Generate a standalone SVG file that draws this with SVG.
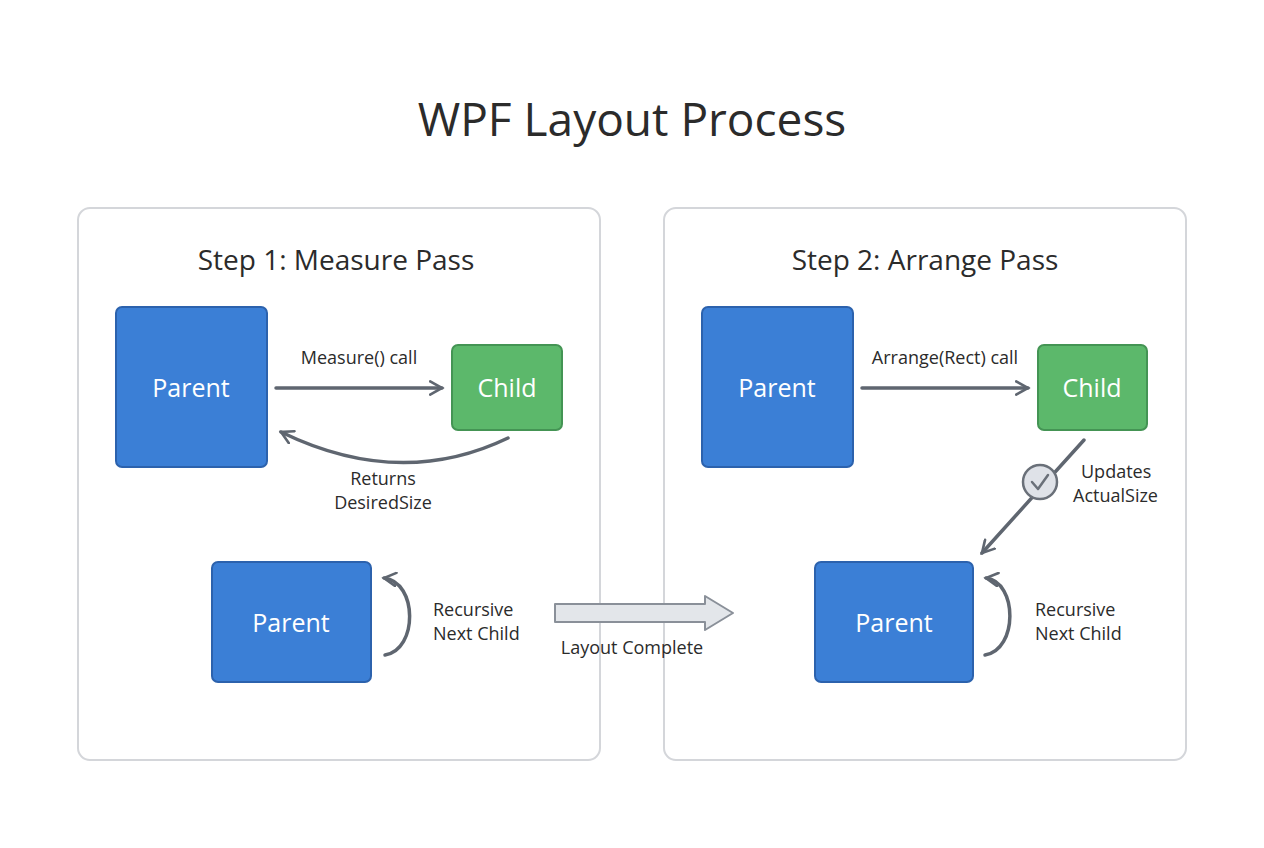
<svg xmlns="http://www.w3.org/2000/svg" width="1264" height="848" viewBox="0 0 1264 848">
<style>
text{font-family:"Open Sans","Noto Sans",sans-serif;fill:#2b2b2b}
.panel{fill:#fff;stroke:#d4d6da;stroke-width:2}
.blue{fill:#3b7fd6;stroke:#2c62ad;stroke-width:2}
.green{fill:#5cb86b;stroke:#449454;stroke-width:2}
.nt{fill:#fff;font-size:25px;text-anchor:middle}
.lbl{font-size:18px}
.c{text-anchor:middle}
.ln{fill:none;stroke:#5f6670;stroke-width:3.5;stroke-linecap:round}
</style>
<defs>
<marker id="ah" viewBox="0 0 12 12" refX="10" refY="6" markerWidth="4.5" markerHeight="4.5" orient="auto" markerUnits="strokeWidth">
<path d="M1,1 L10,6 L1,11" fill="none" stroke="#5f6670" stroke-width="2" stroke-linecap="round"/>
</marker>
</defs>
<rect width="1264" height="848" fill="#fff"/>
<text x="632" y="136" font-size="46" class="c">WPF Layout Process</text>
<rect class="panel" x="78" y="208" width="522" height="552" rx="12"/>
<rect class="panel" x="664" y="208" width="522" height="552" rx="12"/>
<text x="336" y="270" font-size="28" class="c">Step 1: Measure Pass</text>
<text x="925" y="270" font-size="28" class="c">Step 2: Arrange Pass</text>
<g id="parent1"><rect class="blue" x="116" y="307" width="151" height="160" rx="6"/><text class="nt" x="191" y="397">Parent</text></g>
<g id="child1"><rect class="green" x="452" y="345" width="110" height="85" rx="6"/><text class="nt" x="507" y="397">Child</text></g>
<g id="parent2"><rect class="blue" x="212" y="562" width="159" height="120" rx="6"/><text class="nt" x="291" y="632">Parent</text></g>
<g id="parent3"><rect class="blue" x="702" y="307" width="151" height="160" rx="6"/><text class="nt" x="777" y="397">Parent</text></g>
<g id="child2"><rect class="green" x="1038" y="345" width="109" height="85" rx="6"/><text class="nt" x="1092" y="397">Child</text></g>
<g id="parent4"><rect class="blue" x="815" y="562" width="158" height="120" rx="6"/><text class="nt" x="894" y="632">Parent</text></g>
<g id="connectors">
<line class="ln" x1="276" y1="388" x2="442" y2="388" marker-end="url(#ah)"/>
<path class="ln" d="M508,438 Q400,490 281,432" marker-end="url(#ah)"/>
<path class="ln" d="M385,655 C418,650 418,582 384,578" marker-end="url(#ah)"/>
<line class="ln" x1="862" y1="388" x2="1028" y2="388" marker-end="url(#ah)"/>
<line class="ln" x1="1084" y1="440" x2="982" y2="553" marker-end="url(#ah)"/>
<path class="ln" d="M985,655 C1018,650 1018,582 986,578" marker-end="url(#ah)"/>
<path d="M555,604 L705,604 L705,596 L733,613 L705,630 L705,622 L555,622 Z" fill="#e3e6ea" stroke="#8a9099" stroke-width="2" stroke-linejoin="round"/>
<circle cx="1040" cy="482" r="17" fill="#dfe2e8" stroke="#6a7079" stroke-width="2.5"/>
<path d="M1032,482 L1038,489 L1048,475" fill="none" stroke="#6a7079" stroke-width="2.5" stroke-linecap="round" stroke-linejoin="round"/>
</g>
<text class="lbl c" x="359" y="364">Measure() call</text>
<text class="lbl c" x="383" y="485">Returns</text>
<text class="lbl c" x="383" y="509">DesiredSize</text>
<text class="lbl" x="433" y="616">Recursive</text>
<text class="lbl" x="433" y="640">Next Child</text>
<text class="lbl c" x="632" y="654">Layout Complete</text>
<text class="lbl c" x="945" y="364">Arrange(Rect) call</text>
<text class="lbl" x="1081" y="478">Updates</text>
<text class="lbl" x="1073" y="502">ActualSize</text>
<text class="lbl" x="1035" y="616">Recursive</text>
<text class="lbl" x="1035" y="640">Next Child</text>
</svg>
